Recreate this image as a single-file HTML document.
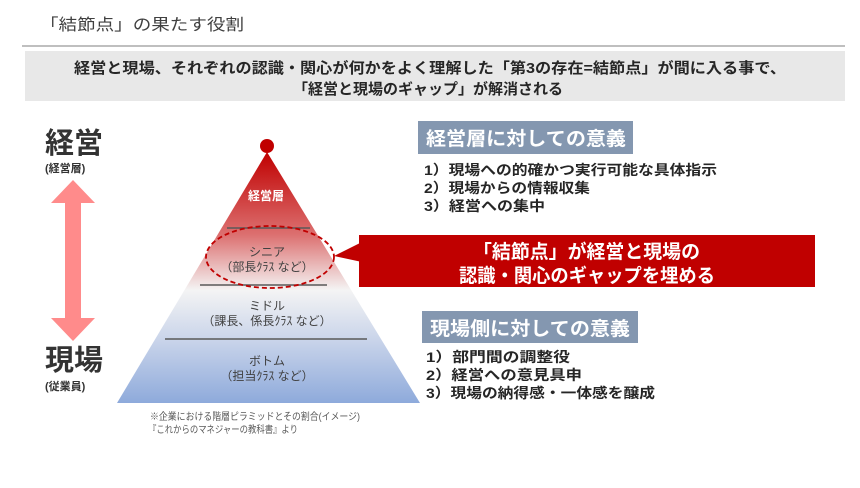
<!DOCTYPE html>
<html><head><meta charset="utf-8"><style>
html,body{margin:0;padding:0;background:#fff;}
svg text{font-family:"Liberation Sans","Noto Sans CJK JP",sans-serif;}
</style></head><body>
<svg width="860" height="483" viewBox="0 0 860 483" xmlns="http://www.w3.org/2000/svg">
<defs>
<linearGradient id="pg" x1="0" y1="152" x2="0" y2="403" gradientUnits="userSpaceOnUse">
<stop offset="0" stop-color="#c00000"/>
<stop offset="0.33" stop-color="#dc7070"/>
<stop offset="0.55" stop-color="#f4f4f4"/>
<stop offset="0.75" stop-color="#c9d4ea"/>
<stop offset="1" stop-color="#8eaadb"/>
</linearGradient>
</defs>
<text x="40" y="30" font-size="16" fill="#404040" textLength="204" lengthAdjust="spacingAndGlyphs">「結節点」の果たす役割</text>
<line x1="22" y1="46" x2="845" y2="46" stroke="#7f7f7f" stroke-width="1"/>
<rect x="25" y="51" width="820" height="50" fill="#e8e8e8"/>
<text x="430" y="73" font-size="15" font-weight="bold" fill="#262626" text-anchor="middle" textLength="712" lengthAdjust="spacingAndGlyphs">経営と現場、それぞれの認識・関心が何かをよく理解した「第3の存在=結節点」が間に入る事で、</text>
<text x="428" y="94" font-size="15" font-weight="bold" fill="#262626" text-anchor="middle" textLength="270" lengthAdjust="spacingAndGlyphs">「経営と現場のギャップ」が解消される</text>

<text x="45" y="153" font-size="29" font-weight="bold" fill="#333">経営</text>
<text x="45" y="172" font-size="11" font-weight="bold" fill="#333">(経営層)</text>
<polygon points="73,180 95,203 81,203 81,318 95,318 73,341 51,318 65,318 65,203 51,203" fill="#ff8b8b"/>
<text x="45" y="370" font-size="29" font-weight="bold" fill="#333">現場</text>
<text x="45" y="390" font-size="11" font-weight="bold" fill="#333">(従業員)</text>

<polygon points="267,152 420,403 117,403" fill="url(#pg)"/>
<circle cx="267" cy="146" r="7" fill="#c00000"/>
<line x1="227" y1="228" x2="310" y2="228" stroke="#595959" stroke-width="1.5"/>
<line x1="200" y1="285" x2="327" y2="285" stroke="#595959" stroke-width="1.5"/>
<line x1="165" y1="339" x2="367" y2="339" stroke="#595959" stroke-width="1.5"/>
<text x="266" y="200" font-size="12" font-weight="bold" fill="#fff" text-anchor="middle">経営層</text>
<text x="267" y="256" font-size="12" fill="#404040" text-anchor="middle">シニア</text>
<text x="267" y="271" font-size="12" fill="#404040" text-anchor="middle">（部長ｸﾗｽ など）</text>
<text x="267" y="310" font-size="12" fill="#404040" text-anchor="middle">ミドル</text>
<text x="267" y="325" font-size="12" fill="#404040" text-anchor="middle">（課長、係長ｸﾗｽ など）</text>
<text x="267" y="365" font-size="12" fill="#404040" text-anchor="middle">ボトム</text>
<text x="267" y="380" font-size="12" fill="#404040" text-anchor="middle">（担当ｸﾗｽ など）</text>
<ellipse cx="270" cy="257" rx="64" ry="31" fill="none" stroke="#c00000" stroke-width="1.8" stroke-dasharray="5,3"/>
<text x="150" y="420" font-size="10" fill="#595959" textLength="210" lengthAdjust="spacingAndGlyphs">※企業における階層ピラミッドとその割合(イメージ)</text>
<text x="148" y="433" font-size="10" fill="#595959" textLength="150" lengthAdjust="spacingAndGlyphs">『これからのマネジャーの教科書』より</text>

<polygon points="334,256 362,242 362,262" fill="#c00000"/>
<rect x="359" y="235" width="456" height="52" fill="#c00000"/>
<text x="473" y="258" font-size="19" font-weight="bold" fill="#fff" textLength="227" lengthAdjust="spacingAndGlyphs">「結節点」が経営と現場の</text>
<text x="459" y="282" font-size="19" font-weight="bold" fill="#fff" textLength="256" lengthAdjust="spacingAndGlyphs">認識・関心のギャップを埋める</text>

<rect x="418" y="121" width="215" height="33" fill="#8497b0"/>
<text x="426" y="145" font-size="19" font-weight="bold" fill="#fff" textLength="200" lengthAdjust="spacingAndGlyphs">経営層に対しての意義</text>
<g font-size="14" font-weight="bold" fill="#262626">
<text x="424" y="175" textLength="293" lengthAdjust="spacingAndGlyphs">1）現場への的確かつ実行可能な具体指示</text>
<text x="424" y="193" textLength="166" lengthAdjust="spacingAndGlyphs">2）現場からの情報収集</text>
<text x="424" y="211" textLength="121" lengthAdjust="spacingAndGlyphs">3）経営への集中</text>
</g>
<rect x="422" y="311" width="216" height="32" fill="#8497b0"/>
<text x="430" y="335" font-size="19" font-weight="bold" fill="#fff" textLength="200" lengthAdjust="spacingAndGlyphs">現場側に対しての意義</text>
<g font-size="14" font-weight="bold" fill="#262626">
<text x="426" y="362" textLength="144" lengthAdjust="spacingAndGlyphs">1）部門間の調整役</text>
<text x="426" y="380" textLength="156" lengthAdjust="spacingAndGlyphs">2）経営への意見具申</text>
<text x="426" y="398" textLength="229" lengthAdjust="spacingAndGlyphs">3）現場の納得感・一体感を醸成</text>
</g>
</svg>
</body></html>
